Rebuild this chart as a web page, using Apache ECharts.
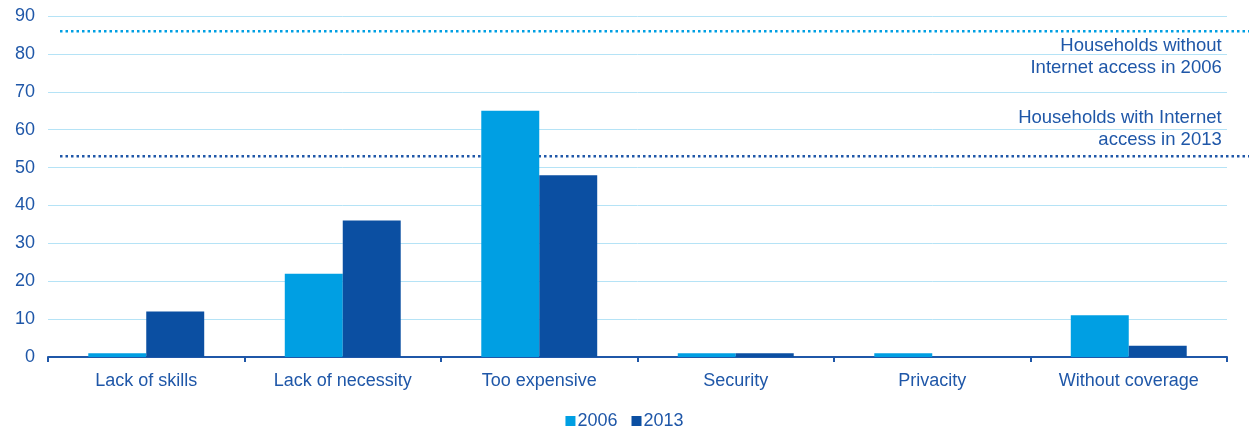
<!DOCTYPE html>
<html>
<head>
<meta charset="utf-8">
<script src="https://cdn.jsdelivr.net/npm/echarts@6/dist/echarts.min.js"></script>
<style>html,body{margin:0;padding:0;background:#fff}#c{width:1249px;height:430px}</style>
</head>
<body>
<div id="c"></div>
<script>
const categories = ['Lack of skills', 'Lack of necessity', 'Too expensive', 'Security', 'Privacity', 'Without coverage'];
const values2006 = [1, 22, 65, 1, 1, 11];
const values2013 = [12, 36, 48, 1, 0, 3];
const yTicks = [0, 10, 20, 30, 40, 50, 60, 70, 80, 90];
const ref2006 = 86;   // Households without Internet access in 2006
const ref2013 = 53;   // Households with Internet access in 2013
const refLabel2006 = 'Households without\nInternet access in 2006';
const refLabel2013 = 'Households with Internet\naccess in 2013';

const C06 = '#009FE3', C13 = '#0B4FA2', TXT = '#1F57A8', GRID = '#B5E3F6';
const FONT = 'Liberation Sans, Arial, sans-serif';
const FS = 18;

const chart = echarts.init(document.getElementById('c'));
chart.setOption({
  animation: false,
  textStyle: { fontFamily: FONT },
  grid: [
    { left: 48, right: 22, top: 16, bottom: 73, containLabel: false },
    { left: 60, right: 0, top: 16, bottom: 73, containLabel: false }
  ],
  legend: {
    bottom: 0, left: 'center', itemWidth: 10, itemHeight: 10, itemGap: 14, padding: 0,
    textStyle: { color: TXT, fontSize: FS, fontFamily: FONT, padding: [0, 0, 0, -3] },
    icon: 'rect',
    data: ['2006', '2013']
  },
  xAxis: [
    {
      type: 'category', gridIndex: 0, data: categories,
      axisLine: { lineStyle: { color: '#1F57A8', width: 2 } },
      axisTick: { show: true, length: 5, lineStyle: { color: '#1F57A8', width: 2 } },
      axisLabel: { color: TXT, fontSize: FS, margin: 15, fontFamily: FONT },
      splitLine: { show: false }
    },
    { type: 'value', gridIndex: 1, min: 0, max: 1, show: false }
  ],
  yAxis: [
    {
      type: 'value', gridIndex: 0, min: yTicks[0], max: yTicks[yTicks.length - 1], interval: 10,
      axisLine: { show: false }, axisTick: { show: false },
      axisLabel: { color: TXT, fontSize: FS, margin: 13, fontFamily: FONT },
      splitLine: { lineStyle: { color: GRID, width: 1 } }
    },
    { type: 'value', gridIndex: 1, min: yTicks[0], max: yTicks[yTicks.length - 1], show: false }
  ],
  series: [
    {
      name: '2006', type: 'bar', xAxisIndex: 0, yAxisIndex: 0, data: values2006,
      itemStyle: { color: C06 }, barGap: '0%', barCategoryGap: '41%'
    },
    {
      name: '2013', type: 'bar', xAxisIndex: 0, yAxisIndex: 0, data: values2013,
      itemStyle: { color: C13 }, barGap: '0%', barCategoryGap: '41%'
    },
    {
      name: 'ref2006', type: 'line', xAxisIndex: 1, yAxisIndex: 1, z: 5,
      data: [[0, ref2006], [1, ref2006]], symbol: 'none', silent: true,
      lineStyle: { color: C06, width: 2.5, type: [2.5, 3] }
    },
    {
      name: 'ref2013', type: 'line', xAxisIndex: 1, yAxisIndex: 1, z: 1,
      data: [[0, ref2013], [1, ref2013]], symbol: 'none', silent: true,
      lineStyle: { color: '#1F57A8', width: 2.5, type: [2.5, 3] }
    },
    {
      name: 'labels', type: 'scatter', xAxisIndex: 0, yAxisIndex: 0, silent: true,
      symbolSize: 0, itemStyle: { opacity: 1 },
      data: [
        { value: [categories[5], ref2006], label: { formatter: refLabel2006, position: 'bottom', offset: [93, -1] } },
        { value: [categories[5], ref2013], label: { formatter: refLabel2013, position: 'top', offset: [93, 0] } }
      ],
      label: {
        show: true, color: TXT, fontSize: 18.5, fontFamily: FONT,
        align: 'right', lineHeight: 22
      }
    }
  ]
});
</script>
</body>
</html>
